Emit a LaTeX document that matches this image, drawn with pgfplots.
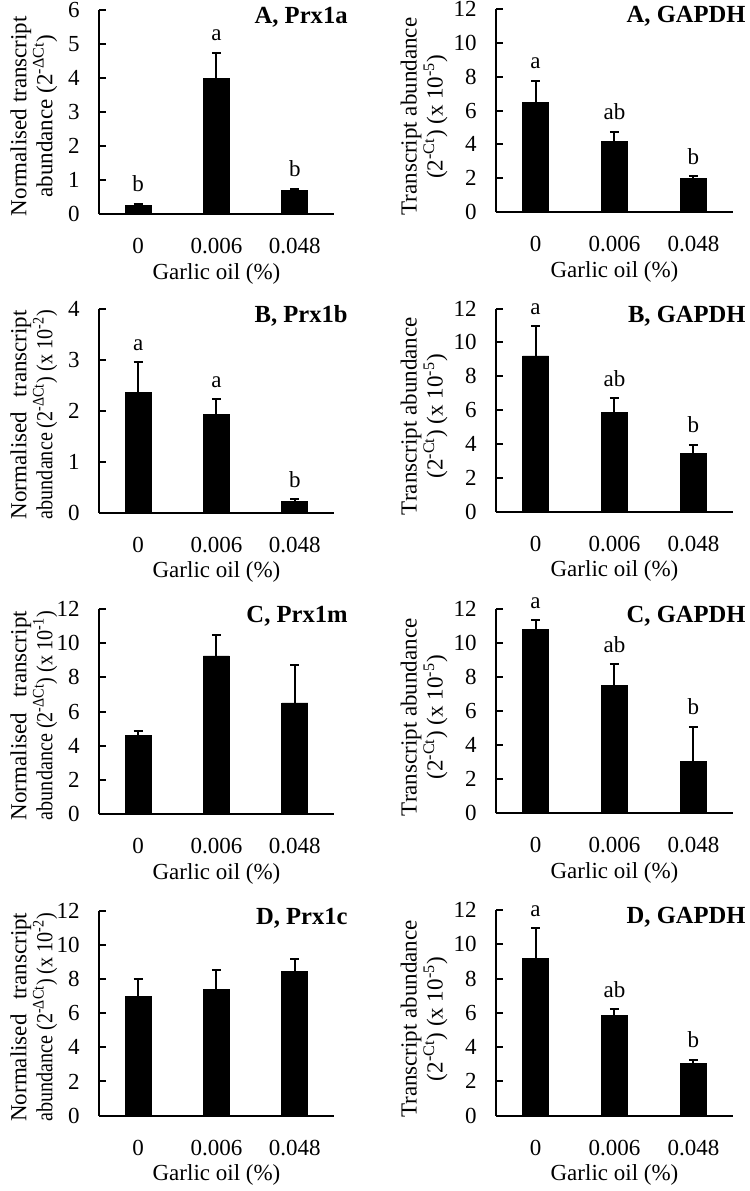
\documentclass[border=0pt]{standalone}
\usepackage{fontspec}
\setmainfont{Liberation Serif}
\usepackage{graphicx}
\usepackage{pgfplots}
\usepackage{pgfplotstable}
\pgfplotsset{compat=1.18}

\newcommand\fs{\fontsize{11.5}{13}\selectfont}
\newcommand\fst{\fontsize{12.3}{14}\selectfont}
% two-line label of panels B-D: both lines 104.5pt long
\newcommand\twol[1]{\makebox[104.5pt][s]{Normalised transcript}\\\resizebox{104.5pt}{\height}{abundance (2\textsuperscript{-ΔCt}) (x 10\textsuperscript{#1})}}

% x: 0 = 0%, 1 = 0.006%, 2 = 0.048%
\pgfplotstableread{
x y e top lab
0 0.25 0.05 0.30 b
1 4.00 0.75 4.75 a
2 0.68 0.07 0.75 b
}\tabAl
\pgfplotstableread{
x y e top lab
0 6.50 1.25 7.75 a
1 4.15 0.60 4.75 ab
2 2.00 0.10 2.10 b
}\tabAr
\pgfplotstableread{
x y e top lab
0 2.35 0.60 2.95 a
1 1.93 0.29 2.22 a
2 0.22 0.04 0.26 b
}\tabBl
\pgfplotstableread{
x y e top lab
0 9.20 1.75 10.95 a
1 5.85 0.85 6.70 ab
2 3.45 0.50 3.95 b
}\tabBr
\pgfplotstableread{
x y e
0 4.60 0.25
1 9.25 1.25
2 6.50 2.25
}\tabCl
\pgfplotstableread{
x y e top lab
0 10.80 0.55 11.35 a
1 7.50 1.25 8.75 ab
2 3.05 2.05 5.10 b
}\tabCr
\pgfplotstableread{
x y e
0 7.00 1.00
1 7.40 1.15
2 8.45 0.70
}\tabDl
\pgfplotstableread{
x y e top lab
0 9.15 1.80 10.95 a
1 5.85 0.35 6.20 ab
2 3.05 0.20 3.25 b
}\tabDr

\tikzset{ttl/.style={font=\fst\bfseries, anchor=base east, inner sep=0pt}}

\pgfplotsset{
  panel/.style={
    scale only axis,
    axis lines=left, axis line style={-, line width=1pt, black},
    xmin=-0.5, xmax=2.5, ymin=0,
    xtick={0,1,2}, xticklabels={0,0.006,0.048},
    major x tick style={draw=none},
    ytick align=inside, major tick length=3.5pt,
    major y tick style={line width=1pt, black},
    tick label style={font=\fs},
    /pgf/number format/assume math mode=true,
    xticklabel style={anchor=base, inner sep=0pt, yshift=-18pt},
    yticklabel style={anchor=east, inner sep=0pt, xshift=-9.5pt},
    xlabel={Garlic oil (\%)},
    xlabel style={font=\fs, at={(axis description cs:0.5,0)}, anchor=base, inner sep=0pt, yshift=-32.5pt},
    ylabel style={font=\fs, align=center, anchor=south, inner sep=0pt},
    clip=false,
  },
  leftpanel/.style={panel, width=117.5pt, height=102pt,
    ylabel style={at={(axis description cs:-0.176,0.48)}}},
  rightpanel/.style={panel, width=118.5pt, height=101.5pt, ymax=12, ytick={0,2,...,12},
    ylabel={Transcript abundance\\(2\textsuperscript{-Ct}) (x 10\textsuperscript{-5})},
    ylabel style={at={(axis description cs:-0.2025,0.47)}}},
  bars/.style={ybar, bar width=13pt, fill=black, draw=black,
    error bars/.cd, y dir=plus, y explicit, error mark=|,
    error bar style={line width=1pt, black},
    error mark options={line width=1pt, black, mark size=2.25pt}},
  letters/.style={draw=none, mark=none, nodes near coords, point meta=explicit symbolic,
    nodes near coords style={font=\fs, anchor=base, inner sep=0pt, yshift=6pt}},
}

\begin{document}%
\begin{tikzpicture}
\path[use as bounding box] (0,0) rectangle (375pt,-595.5pt);

% ---------- Row A ----------
\begin{axis}[leftpanel, at={(49.5pt,-107pt)}, anchor=south west,
  ymax=6, ytick={0,1,...,6},
  ylabel={Normalised transcript\\abundance (2\textsuperscript{-ΔCt})}]
\addplot[bars] table[x=x, y=y, y error=e] {\tabAl};
\addplot[letters] table[x=x, y=top, meta=lab] {\tabAl};
\node[ttl] at ([xshift=7pt, yshift=-6.7pt]rel axis cs:1,1) {A, Prx1a};
\end{axis}

\begin{axis}[rightpanel, at={(248pt,-106pt)}, anchor=south west]
\addplot[bars] table[x=x, y=y, y error=e] {\tabAr};
\addplot[letters] table[x=x, y=top, meta=lab] {\tabAr};
\node[ttl] at ([xshift=6.5pt, yshift=-6.7pt]rel axis cs:1,1) {A, GAPDH};
\end{axis}

% ---------- Row B ----------
\begin{axis}[leftpanel, at={(49.5pt,-256.3pt)}, anchor=south west,
  ymax=4, ytick={0,1,...,4},
  ylabel={\twol{-2}}]
\addplot[bars] table[x=x, y=y, y error=e] {\tabBl};
\addplot[letters] table[x=x, y=top, meta=lab] {\tabBl};
\node[ttl] at ([xshift=7pt, yshift=-6.7pt]rel axis cs:1,1) {B, Prx1b};
\end{axis}

\begin{axis}[rightpanel, at={(248pt,-255.8pt)}, anchor=south west]
\addplot[bars] table[x=x, y=y, y error=e] {\tabBr};
\addplot[letters] table[x=x, y=top, meta=lab] {\tabBr};
\node[ttl] at ([xshift=6.5pt, yshift=-6.7pt]rel axis cs:1,1) {B, GAPDH};
\end{axis}

% ---------- Row C ----------
\begin{axis}[leftpanel, at={(49.5pt,-407pt)}, anchor=south west, height=102.5pt,
  ymax=12, ytick={0,2,...,12},
  ylabel={\twol{-1}}]
\addplot[bars] table[x=x, y=y, y error=e] {\tabCl};
\node[ttl] at ([xshift=7pt, yshift=-6.7pt]rel axis cs:1,1) {C, Prx1m};
\end{axis}

\begin{axis}[rightpanel, at={(248pt,-406.7pt)}, anchor=south west, height=102.2pt]
\addplot[bars] table[x=x, y=y, y error=e] {\tabCr};
\addplot[letters] table[x=x, y=top, meta=lab] {\tabCr};
\node[ttl] at ([xshift=6.5pt, yshift=-6.7pt]rel axis cs:1,1) {C, GAPDH};
\end{axis}

% ---------- Row D ----------
\begin{axis}[leftpanel, at={(49.5pt,-557.8pt)}, anchor=south west, height=102.5pt,
  ymax=12, ytick={0,2,...,12},
  ylabel={\twol{-2}}]
\addplot[bars] table[x=x, y=y, y error=e] {\tabDl};
\node[ttl] at ([xshift=7pt, yshift=-6.7pt]rel axis cs:1,1) {D, Prx1c};
\end{axis}

\begin{axis}[rightpanel, at={(248pt,-557.8pt)}, anchor=south west, height=102.8pt]
\addplot[bars] table[x=x, y=y, y error=e] {\tabDr};
\addplot[letters] table[x=x, y=top, meta=lab] {\tabDr};
\node[ttl] at ([xshift=6.5pt, yshift=-6.7pt]rel axis cs:1,1) {D, GAPDH};
\end{axis}
\end{tikzpicture}%
\end{document}
